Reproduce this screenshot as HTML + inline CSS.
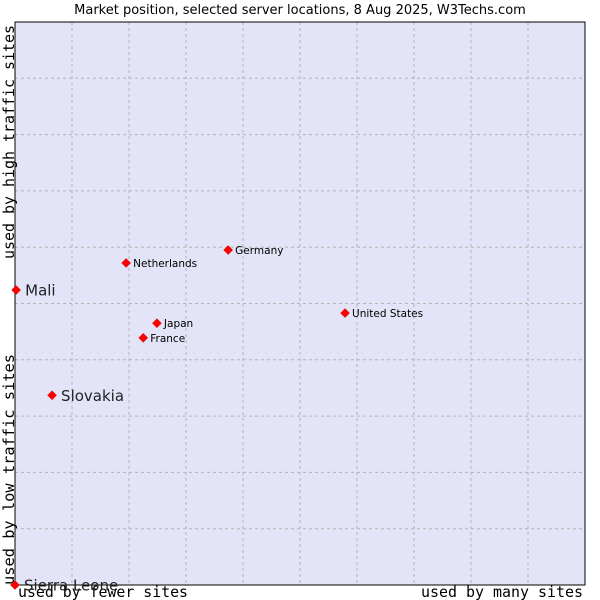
<!DOCTYPE html>
<html><head><meta charset="utf-8"><style>
body{margin:0;background:#fff;}
svg{display:block;}
</style></head><body>
<svg id="chart" width="600" height="600" xmlns="http://www.w3.org/2000/svg">
<text x="300" y="14" text-anchor="middle" font-family="DejaVu Sans, sans-serif" font-size="13" fill="#000">Market position, selected server locations, 8 Aug 2025, W3Techs.com</text>
<rect x="15" y="22" width="570" height="563" fill="#e3e4f8"/>
<g id="grid"></g>
<rect x="15" y="22" width="570" height="563" fill="none" stroke="#000" stroke-width="1"/>
<text x="18" y="597" textLength="170" lengthAdjust="spacingAndGlyphs" font-family="DejaVu Sans Mono, monospace" font-size="15">used by fewer sites</text>
<text x="421" y="597" textLength="162" lengthAdjust="spacingAndGlyphs" font-family="DejaVu Sans Mono, monospace" font-size="15">used by many sites</text>
<text transform="translate(14,585) rotate(-90)" textLength="231" lengthAdjust="spacingAndGlyphs" font-family="DejaVu Sans Mono, monospace" font-size="15">used by low traffic sites</text>
<text transform="translate(14,259) rotate(-90)" textLength="234" lengthAdjust="spacingAndGlyphs" font-family="DejaVu Sans Mono, monospace" font-size="15">used by high traffic sites</text>
<g id="points"></g>
</svg>
<script>
const names = ["Mali","Slovakia","Sierra Leone","Netherlands","Germany","United States","Japan","France"];
const xValues = [0.2, 6.5, 0, 19.5, 37.4, 57.9, 24.9, 22.5];
const yValues = [52.4, 33.7, 0, 57.2, 59.5, 48.3, 46.5, 43.9];
const bigLabel = [true, true, true, false, false, false, false, false];
const gridTicks = [10,20,30,40,50,60,70,80,90];

const NS="http://www.w3.org/2000/svg";
const L=15,T=22,W=570,H=563;
function sx(v){return L+v/100*W;}
function sy(v){return T+H-v/100*H;}
const grid=document.getElementById('grid');
gridTicks.forEach(t=>{
  let v=document.createElementNS(NS,'line');
  v.setAttribute('x1',sx(t));v.setAttribute('x2',sx(t));v.setAttribute('y1',T);v.setAttribute('y2',T+H);
  v.setAttribute('stroke','#b4b4b4');v.setAttribute('stroke-dasharray','3,3');
  
  
  grid.appendChild(v);
  let h=document.createElementNS(NS,'line');
  h.setAttribute('y1',sy(t));h.setAttribute('y2',sy(t));h.setAttribute('x1',L);h.setAttribute('x2',L+W);
  h.setAttribute('stroke','#b4b4b4');h.setAttribute('stroke-dasharray','3,3');
  
  
  grid.appendChild(h);
});
const pts=document.getElementById('points');
names.forEach((n,i)=>{
  const x=sx(xValues[i]),y=sy(yValues[i]);
  let d=document.createElementNS(NS,'path');
  d.setAttribute('d',`M${x} ${y-4.5}L${x+4.5} ${y}L${x} ${y+4.5}L${x-4.5} ${y}Z`);
  d.setAttribute('fill','#f00');d.setAttribute('stroke','#c00');d.setAttribute('stroke-width','0.5');
  
  
  pts.appendChild(d);
  let t=document.createElementNS(NS,'text');
  const big=bigLabel[i];
  t.setAttribute('x',x+(big?9:7));t.setAttribute('y',y+(big?5.5:4));
  t.setAttribute('font-family','DejaVu Sans, sans-serif');
  t.setAttribute('font-size',big?15:10.5);
  t.setAttribute('fill',big?'#222':'#000');
  t.textContent=n;
  
  
  pts.appendChild(t);
});
</script>
</body></html>
